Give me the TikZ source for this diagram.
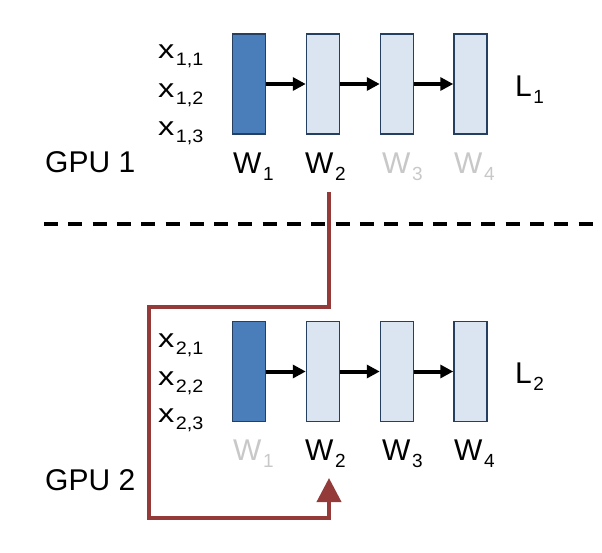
\documentclass[tikz,border=0pt]{standalone}
\usepackage{fontspec}
\setmainfont{Liberation Sans}
\usepackage{xcolor}
\usepackage{graphicx}
\usepackage{tikz}
\usetikzlibrary{arrows.meta,positioning}

\definecolor{layerdark}{RGB}{74,126,187}
\definecolor{layerlight}{RGB}{219,229,241}
\definecolor{layeredge}{RGB}{36,63,96}
\definecolor{fadedtext}{RGB}{200,200,200}
\definecolor{syncred}{RGB}{148,58,56}

\newcommand{\lsub}[2]{\kern1.5pt\raisebox{-7pt}{\fontsize{#1}{#1}\selectfont #2}}
\newcommand{\inlab}[1]{\scalebox{1.25}[1]{x}\lsub{18}{\scalebox{1.1}[1]{#1}}}
\newcommand{\wlab}[1]{W\lsub{19}{#1}}

\begin{document}
\begin{tikzpicture}[x=1pt,y=-1pt,
  layer/.style={draw=layeredge, line width=1.5pt, minimum width=33pt, minimum height=100pt, inner sep=0pt},
  wlbl/.style={anchor=base west, inner sep=0pt, font=\fontsize{30}{30}\selectfont},
  xlbl/.style={anchor=base west, inner sep=0pt, font=\fontsize{26}{26}\selectfont},
  flow/.style={line width=4pt, -{Triangle[length=13pt,width=13pt]}},
  sync/.style={draw=syncred, line width=4pt, -{Triangle[length=24pt,width=24pt]}}]
  \useasboundingbox (0,0) rectangle (602,552);
  % GPU 1
  \node[layer, fill=layerdark] (a1) at (249,84) {};
  \node[layer, fill=layerlight] (a2) at (323,84) {};
  \node[layer, fill=layerlight] (a3) at (397,84) {};
  \node[layer, fill=layerlight] (a4) at (470.5,84) {};
  \draw[flow] (a1.east) -- (a2.west);
  \draw[flow] (a2.east) -- (a3.west);
  \draw[flow] (a3.east) -- (a4.west);
  \node[xlbl] (x11) at (158,58) {\inlab{1,1}};
  \node[xlbl] (x12) at (158,97) {\inlab{1,2}};
  \node[xlbl] (x13) at (158,135) {\inlab{1,3}};
  \node[wlbl] (wa1) at (233,173) {\wlab{1}};
  \node[wlbl] (wa2) at (305,173) {\wlab{2}};
  \node[wlbl, text=fadedtext] (wa3) at (382,173) {\wlab{3}};
  \node[wlbl, text=fadedtext] (wa4) at (454,173) {\wlab{4}};
  \node[wlbl] (loss1) at (515,96) {L\lsub{19}{1}};
  \node[wlbl] (gpu1) at (45,172) {GPU 1};
  % separator
  \draw[line width=4pt, dash pattern=on 14pt off 10.3pt] (44,224) -- (595,224);
  % GPU 2
  \node[layer, fill=layerdark] (b1) at (249,371.5) {};
  \node[layer, fill=layerlight] (b2) at (323,371.5) {};
  \node[layer, fill=layerlight] (b3) at (397,371.5) {};
  \node[layer, fill=layerlight] (b4) at (470.5,371.5) {};
  \draw[flow] (b1.east) -- (b2.west);
  \draw[flow] (b2.east) -- (b3.west);
  \draw[flow] (b3.east) -- (b4.west);
  \node[xlbl] (x21) at (158,347) {\inlab{2,1}};
  \node[xlbl] (x22) at (158,385) {\inlab{2,2}};
  \node[xlbl] (x23) at (158,422) {\inlab{2,3}};
  \node[wlbl, text=fadedtext] (wb1) at (233,460) {\wlab{1}};
  \node[wlbl] (wb2) at (305,460) {\wlab{2}};
  \node[wlbl] (wb3) at (382,460) {\wlab{3}};
  \node[wlbl] (wb4) at (454,460) {\wlab{4}};
  \node[wlbl] (loss2) at (515,383) {L\lsub{19}{2}};
  \node[wlbl] (gpu2) at (45,490) {GPU 2};
  % weight copy from GPU 1 to GPU 2
  \coordinate (src) at (329,192);
  \coordinate (bend) at (149,307);
  \coordinate (low) at (149,518);
  \coordinate (dst) at (329,478);
  \draw[sync] (src) |- (bend) -- (low) -| (dst);
\end{tikzpicture}
\end{document}
